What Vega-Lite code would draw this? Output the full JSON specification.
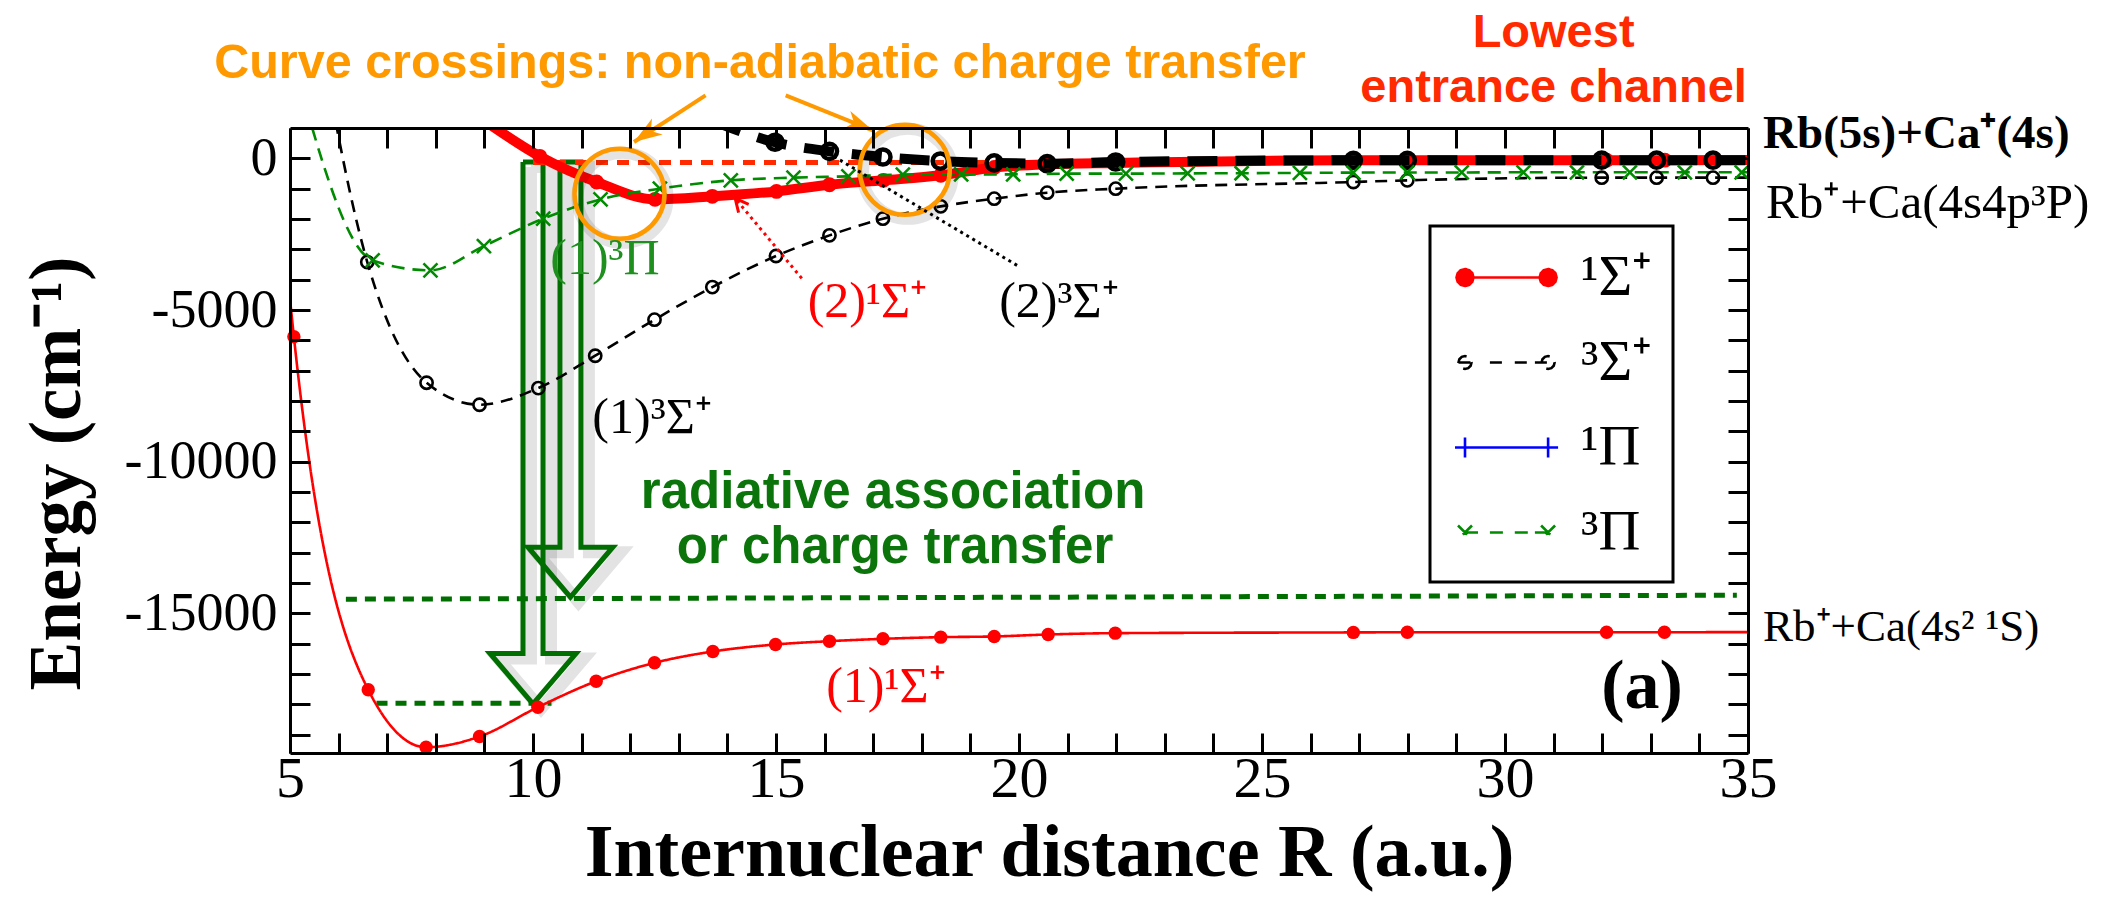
{
  "$schema": "https://vega.github.io/schema/vega-lite/v6.json",
  "width": 1458,
  "height": 625,
  "autosize": {"type": "none"},
  "padding": {"left": 290, "top": 128, "right": 357, "bottom": 163},
  "background": "white",
  "config": {"view": {"stroke": null}, "axis": {"grid": false}},
  "datasets": {
    "thin": [
      {"state": "¹Σ⁺", "R": 4.8, "E": -1300}, {"state": "¹Σ⁺", "R": 5.08, "E": -5880}, {"state": "¹Σ⁺", "R": 6.61, "E": -17517},
      {"state": "¹Σ⁺", "R": 7.8, "E": -19410}, {"state": "¹Σ⁺", "R": 8.9, "E": -19057}, {"state": "¹Σ⁺", "R": 10.1, "E": -18090},
      {"state": "¹Σ⁺", "R": 11.3, "E": -17233}, {"state": "¹Σ⁺", "R": 12.5, "E": -16628}, {"state": "¹Σ⁺", "R": 13.7, "E": -16254},
      {"state": "¹Σ⁺", "R": 14.99, "E": -16023}, {"state": "¹Σ⁺", "R": 16.1, "E": -15914}, {"state": "¹Σ⁺", "R": 17.2, "E": -15837},
      {"state": "¹Σ⁺", "R": 18.39, "E": -15782}, {"state": "¹Σ⁺", "R": 19.49, "E": -15759}, {"state": "¹Σ⁺", "R": 20.6, "E": -15694},
      {"state": "¹Σ⁺", "R": 21.98, "E": -15650}, {"state": "¹Σ⁺", "R": 26.88, "E": -15625}, {"state": "¹Σ⁺", "R": 27.99, "E": -15620},
      {"state": "¹Σ⁺", "R": 32.09, "E": -15618}, {"state": "¹Σ⁺", "R": 33.28, "E": -15618}, {"state": "¹Σ⁺", "R": 36, "E": -15615},
      {"state": "³Σ⁺", "R": 5.1, "E": 9000}, {"state": "³Σ⁺", "R": 6.59, "E": -3419}, {"state": "³Σ⁺", "R": 7.81, "E": -7395},
      {"state": "³Σ⁺", "R": 8.9, "E": -8121}, {"state": "³Σ⁺", "R": 10.11, "E": -7572}, {"state": "³Σ⁺", "R": 11.28, "E": -6506},
      {"state": "³Σ⁺", "R": 12.5, "E": -5318}, {"state": "³Σ⁺", "R": 13.69, "E": -4243}, {"state": "³Σ⁺", "R": 15.0, "E": -3220},
      {"state": "³Σ⁺", "R": 16.1, "E": -2539}, {"state": "³Σ⁺", "R": 17.2, "E": -1989}, {"state": "³Σ⁺", "R": 18.39, "E": -1583},
      {"state": "³Σ⁺", "R": 19.49, "E": -1330}, {"state": "³Σ⁺", "R": 20.58, "E": -1132}, {"state": "³Σ⁺", "R": 21.99, "E": -1000},
      {"state": "³Σ⁺", "R": 26.88, "E": -780}, {"state": "³Σ⁺", "R": 27.99, "E": -725}, {"state": "³Σ⁺", "R": 31.99, "E": -637},
      {"state": "³Σ⁺", "R": 33.12, "E": -637}, {"state": "³Σ⁺", "R": 34.28, "E": -637}, {"state": "³Σ⁺", "R": 36, "E": -630},
      {"state": "³Π", "R": 5.1, "E": 3000}, {"state": "³Π", "R": 6.7, "E": -3363}, {"state": "³Π", "R": 7.89, "E": -3693},
      {"state": "³Π", "R": 8.99, "E": -2891}, {"state": "³Π", "R": 10.21, "E": -1989}, {"state": "³Π", "R": 11.39, "E": -1352},
      {"state": "³Π", "R": 12.61, "E": -1000}, {"state": "³Π", "R": 14.07, "E": -725}, {"state": "³Π", "R": 15.36, "E": -637},
      {"state": "³Π", "R": 16.49, "E": -593}, {"state": "³Π", "R": 17.61, "E": -538}, {"state": "³Π", "R": 18.81, "E": -527},
      {"state": "³Π", "R": 19.88, "E": -527}, {"state": "³Π", "R": 20.98, "E": -505}, {"state": "³Π", "R": 22.2, "E": -505},
      {"state": "³Π", "R": 23.47, "E": -495}, {"state": "³Π", "R": 24.58, "E": -490}, {"state": "³Π", "R": 25.78, "E": -480},
      {"state": "³Π", "R": 26.88, "E": -470}, {"state": "³Π", "R": 27.99, "E": -465}, {"state": "³Π", "R": 29.11, "E": -465},
      {"state": "³Π", "R": 30.38, "E": -460}, {"state": "³Π", "R": 31.48, "E": -460}, {"state": "³Π", "R": 32.57, "E": -460},
      {"state": "³Π", "R": 33.7, "E": -460}, {"state": "³Π", "R": 34.87, "E": -460}, {"state": "³Π", "R": 36, "E": -460}
    ],
    "channel": [
      {"curve": "2S1", "R": 8.9, "E": 1350}, {"curve": "2S1", "R": 10.14, "E": 66}, {"curve": "2S1", "R": 11.31, "E": -781},
      {"curve": "2S1", "R": 12.51, "E": -1352}, {"curve": "2S1", "R": 13.69, "E": -1253}, {"curve": "2S1", "R": 15.01, "E": -1090},
      {"curve": "2S1", "R": 16.1, "E": -870}, {"curve": "2S1", "R": 17.21, "E": -725}, {"curve": "2S1", "R": 18.39, "E": -560},
      {"curve": "2S1", "R": 19.49, "E": -300}, {"curve": "2S1", "R": 20.58, "E": -198}, {"curve": "2S1", "R": 21.99, "E": -154},
      {"curve": "2S1", "R": 26.88, "E": -66}, {"curve": "2S1", "R": 27.99, "E": -66}, {"curve": "2S1", "R": 32.09, "E": -60},
      {"curve": "2S1", "R": 33.29, "E": -60}, {"curve": "2S1", "R": 36, "E": -55},
      {"curve": "2S3", "R": 13.69, "E": 1240}, {"curve": "2S3", "R": 14.98, "E": 530}, {"curve": "2S3", "R": 16.1, "E": 230},
      {"curve": "2S3", "R": 17.2, "E": 43}, {"curve": "2S3", "R": 18.38, "E": -90}, {"curve": "2S3", "R": 19.49, "E": -150},
      {"curve": "2S3", "R": 20.58, "E": -176}, {"curve": "2S3", "R": 21.99, "E": -121}, {"curve": "2S3", "R": 26.88, "E": -66},
      {"curve": "2S3", "R": 27.99, "E": -66}, {"curve": "2S3", "R": 31.99, "E": -60}, {"curve": "2S3", "R": 33.12, "E": -60},
      {"curve": "2S3", "R": 34.28, "E": -60}, {"curve": "2S3", "R": 36, "E": -55}
    ],
    "arrows": [
      {"a": "A", "i": 0, "R": 9.794, "E": -122}, {"a": "A", "i": 1, "R": 9.794, "E": -16320}, {"a": "A", "i": 2, "R": 9.115, "E": -16320},
      {"a": "A", "i": 3, "R": 10.0, "E": -17980}, {"a": "A", "i": 4, "R": 10.885, "E": -16320}, {"a": "A", "i": 5, "R": 10.206, "E": -16320},
      {"a": "A", "i": 6, "R": 10.206, "E": -122}, {"a": "A", "i": 7, "R": 9.794, "E": -122},
      {"a": "B", "i": 0, "R": 10.554, "E": -122}, {"a": "B", "i": 1, "R": 10.554, "E": -12815}, {"a": "B", "i": 2, "R": 9.898, "E": -12815},
      {"a": "B", "i": 3, "R": 10.77, "E": -14464}, {"a": "B", "i": 4, "R": 11.642, "E": -12815}, {"a": "B", "i": 5, "R": 10.986, "E": -12815},
      {"a": "B", "i": 6, "R": 10.986, "E": -122}, {"a": "B", "i": 7, "R": 10.554, "E": -122}
    ]
  },
  "layer": [
    {
      "encoding": {
        "x": {
          "field": "R", "type": "quantitative",
          "scale": {"domain": [5, 35], "nice": false, "zero": false},
          "axis": {
            "orient": "bottom",
            "values": [5,6,7,8,9,10,11,12,13,14,15,16,17,18,19,20,21,22,23,24,25,26,27,28,29,30,31,32,33,34,35],
            "tickSize": -20, "tickWidth": 3, "tickColor": "#000",
            "domainWidth": 3, "domainColor": "#000",
            "labelExpr": "datum.value % 5 === 0 ? toString(datum.value) : ''",
            "labelFont": "Liberation Serif", "labelFontSize": 58, "labelColor": "#000", "labelPadding": 17,
            "labelFlush": false, "labelOverlap": false, "labelBound": false,
            "title": "Internuclear distance R (a.u.)",
            "titleFont": "Liberation Serif", "titleFontSize": 74, "titleFontWeight": "bold", "titleColor": "#000",
            "titleX": 759, "titleY": 122, "titleBaseline": "alphabetic", "titleAlign": "center", "titleAngle": 0,
            "encode": {"ticks": {"update": {"y2": {"signal": "datum.value % 5 === 0 ? -38 : -20"}}}},
            "zindex": 1
          }
        },
        "y": {
          "field": "E", "type": "quantitative",
          "scale": {"domain": [-19600, 1000], "nice": false, "zero": false},
          "axis": {
            "orient": "left",
            "values": [-19000,-18000,-17000,-16000,-15000,-14000,-13000,-12000,-11000,-10000,-9000,-8000,-7000,-6000,-5000,-4000,-3000,-2000,-1000,0],
            "tickSize": -20, "tickWidth": 3, "tickColor": "#000",
            "domainWidth": 3, "domainColor": "#000",
            "labelExpr": "datum.value % 5000 === 0 ? toString(datum.value) : ''",
            "labelFont": "Liberation Serif", "labelFontSize": 54, "labelColor": "#000", "labelPadding": 33,
            "labelOverlap": false, "labelBound": false, "labelFlush": false,
            "title": "Energy (cm⁻¹)",
            "titleFont": "Liberation Serif", "titleFontSize": 73, "titleFontWeight": "bold", "titleColor": "#000",
            "titleX": -211, "titleY": 345, "titleBaseline": "alphabetic", "titleAlign": "center", "titleAngle": 270,
            "encode": {"ticks": {"update": {"x2": {"signal": "datum.value % 5000 === 0 ? 42 : 20"}}}},
            "zindex": 1
          }
        }
      },
      "layer": [
        {
          "data": {"name": "arrows"},
          "mark": {"type": "line", "stroke": "#000000", "opacity": 0.11, "strokeWidth": 12, "xOffset": 8, "yOffset": 5, "strokeJoin": "miter"},
          "encoding": {"order": {"field": "i", "type": "quantitative"}, "detail": {"field": "a"}}
        },
        {
          "data": {"name": "arrows"},
          "mark": {"type": "line", "stroke": "#006e00", "strokeWidth": 5, "strokeJoin": "miter"},
          "encoding": {"order": {"field": "i", "type": "quantitative"}, "detail": {"field": "a"}}
        },
        {
          "data": {"values": [{"R": 6.15, "E": -14530, "R2": 34.77, "E2": -14400}, {"R": 6.78, "E": -17958, "R2": 10.38, "E2": -17958}]},
          "mark": {"type": "rule", "stroke": "#006e00", "strokeWidth": 5, "strokeDash": [11, 8]},
          "encoding": {"x2": {"field": "R2"}, "y2": {"field": "E2"}}
        },
        {
          "data": {"values": [{"R": 10.0, "E": -140, "R2": 35}]},
          "mark": {"type": "rule", "stroke": "#ff2a00", "strokeWidth": 5, "strokeDash": [12, 9]},
          "encoding": {"x2": {"field": "R2"}}
        },
        {
          "data": {"name": "channel"},
          "transform": [{"filter": {"field": "curve", "equal": "2S1"}}],
          "mark": {"type": "line", "stroke": "#ff0000", "strokeWidth": 10, "interpolate": "monotone", "clip": true}
        },
        {
          "data": {"name": "channel"},
          "transform": [{"filter": {"and": [{"field": "curve", "equal": "2S1"}, {"field": "R", "range": [5, 35]}, {"field": "E", "lte": 1000}]}}],
          "mark": {"type": "point", "shape": "circle", "filled": true, "color": "#ff0000", "size": 220, "opacity": 1}
        },
        {
          "data": {"name": "channel"},
          "transform": [{"filter": {"field": "curve", "equal": "2S3"}}],
          "mark": {"type": "line", "stroke": "#000000", "strokeWidth": 10, "strokeDash": [30, 18], "interpolate": "monotone", "clip": true}
        },
        {
          "data": {"name": "channel"},
          "transform": [{"filter": {"and": [{"field": "curve", "equal": "2S3"}, {"field": "R", "range": [5, 35]}, {"field": "E", "lte": 1000}]}}],
          "mark": {"type": "point", "shape": "circle", "filled": false, "stroke": "#000000", "strokeWidth": 4.5, "size": 230, "opacity": 1}
        },
        {
          "data": {"name": "thin"},
          "mark": {"type": "line", "strokeWidth": 2.6, "interpolate": "monotone", "clip": true},
          "encoding": {
            "color": {
              "field": "state", "type": "nominal",
              "scale": {"domain": ["¹Σ⁺", "³Σ⁺", "¹Π", "³Π"], "range": ["#ff0000", "#000000", "#0000ff", "#008b00"]},
              "legend": {
                "orient": "none", "legendX": 1140, "legendY": 98, "title": null,
                "padding": 20, "strokeColor": "#000000", "fillColor": "#ffffff",
                "symbolSize": 3600, "symbolType": "stroke", "symbolStrokeWidth": 2.6,
                "labelFont": "Liberation Serif", "labelFontSize": 58, "labelColor": "#000000",
                "labelOffset": 68, "rowPadding": 24, "labelLimit": 400,
                "encode": {
                  "legend": {"update": {"strokeWidth": {"value": 3}}},
                  "symbols": {"update": {
                    "shape": {"signal": "datum.value === '¹Σ⁺' ? 'M-0.55,0L2.22,0M-0.267,0L-0.305,0.142L-0.408,0.245L-0.55,0.283L-0.692,0.245L-0.795,0.142L-0.833,0L-0.795,-0.142L-0.692,-0.245L-0.55,-0.283L-0.408,-0.245L-0.305,-0.142ZM2.503,0L2.465,0.142L2.362,0.245L2.22,0.283L2.078,0.245L1.975,0.142L1.937,0L1.975,-0.142L2.078,-0.245L2.22,-0.283L2.362,-0.245L2.465,-0.142Z' : datum.value === '³Σ⁺' ? 'M-0.767,0L-0.11,0M0.28,0L0.78,0M1.11,0L1.61,0M1.78,0L2.437,0M-0.333,0L-0.362,0.109L-0.442,0.188L-0.55,0.217L-0.659,0.188L-0.738,0.109L-0.767,0L-0.738,-0.109L-0.659,-0.188L-0.55,-0.217L-0.442,-0.188L-0.362,-0.109ZM2.437,0L2.408,0.109L2.329,0.188L2.22,0.217L2.112,0.188L2.032,0.109L2.003,0L2.032,-0.109L2.112,-0.188L2.22,-0.217L2.329,-0.188L2.408,-0.109Z' : datum.value === '¹Π' ? 'M-0.55,0L2.22,0M-0.55,-0.333L-0.55,0.333M-0.883,0L-0.217,0M2.22,-0.333L2.22,0.333M1.887,0L2.553,0' : 'M-0.783,-0.233L-0.317,0.233M-0.317,-0.233L-0.783,0.233M1.987,-0.233L2.453,0.233M2.453,-0.233L1.987,0.233M-0.55,0L-0.11,0M0.28,0L0.78,0M1.11,0L1.61,0M1.78,0L2.22,0'"},
                    "fill": {"signal": "datum.value === '¹Σ⁺' ? '#ff0000' : 'transparent'"},
                    "stroke": {"signal": "datum.value === '¹Σ⁺' ? '#ff0000' : datum.value === '³Σ⁺' ? '#000000' : datum.value === '¹Π' ? '#0000ff' : '#008b00'"},
                    "strokeWidth": {"value": 2.6},
                    "strokeDash": {"value": []},
                    "size": {"value": 3600},
                    "opacity": {"value": 1}
                  }}
                }
              }
            },
            "strokeDash": {
              "field": "state", "type": "nominal",
              "scale": {"domain": ["¹Σ⁺", "³Σ⁺", "¹Π", "³Π"], "range": [[1, 0], [12, 8], [1, 0], [13, 8]]},
              "legend": null
            }
          }
        },
        {
          "data": {"name": "thin"},
          "transform": [{"filter": {"and": [{"field": "state", "equal": "¹Σ⁺"}, {"field": "R", "range": [5, 35]}, {"field": "E", "lte": 1000}]}}],
          "mark": {"type": "point", "shape": "circle", "filled": true, "color": "#ff0000", "size": 180, "opacity": 1}
        },
        {
          "data": {"name": "thin"},
          "transform": [{"filter": {"and": [{"field": "state", "equal": "³Σ⁺"}, {"field": "R", "range": [5, 35]}, {"field": "E", "lte": 1000}]}}],
          "mark": {"type": "point", "shape": "circle", "filled": false, "stroke": "#000000", "strokeWidth": 2.6, "size": 150, "opacity": 1}
        },
        {
          "data": {"name": "thin"},
          "transform": [{"filter": {"and": [{"field": "state", "equal": "³Π"}, {"field": "R", "range": [5, 35]}, {"field": "E", "lte": 1000}]}}],
          "mark": {"type": "point", "shape": "M-1,-1L1,1M-1,1L1,-1", "filled": false, "stroke": "#008b00", "strokeWidth": 2.6, "size": 196, "opacity": 1}
        },
        {
          "data": {"values": [{"R": 11.78, "E": -1170}, {"R": 17.65, "E": -379}]},
          "mark": {"type": "point", "shape": "circle", "filled": false, "stroke": "#000000", "strokeWidth": 12, "size": 8100, "opacity": 0.1, "xOffset": 3, "yOffset": 4}
        },
        {
          "data": {"values": [{"R": 11.78, "E": -1170}, {"R": 17.65, "E": -379}]},
          "mark": {"type": "point", "shape": "circle", "filled": false, "stroke": "#ff9900", "strokeWidth": 4.5, "size": 8100, "opacity": 1}
        },
        {
          "data": {"values": [{"R": 13.55, "E": 2077, "R2": 12.078, "E2": 537}, {"R": 15.2, "E": 2077, "R2": 16.99, "E2": 923}]},
          "mark": {"type": "rule", "stroke": "#ff9900", "strokeWidth": 4},
          "encoding": {"x2": {"field": "R2"}, "y2": {"field": "E2"}}
        },
        {
          "data": {"values": [{"R": 12.078, "E": 537}]},
          "mark": {"type": "point", "shape": "M0,0L0.55,1.6L0,1.15L-0.55,1.6Z", "filled": true, "color": "#ff9900", "size": 1225, "angle": 236.5, "opacity": 1}
        },
        {
          "data": {"values": [{"R": 16.99, "E": 923}]},
          "mark": {"type": "point", "shape": "M0,0L0.55,1.6L0,1.15L-0.55,1.6Z", "filled": true, "color": "#ff9900", "size": 1225, "angle": 111.9, "opacity": 1}
        },
        {
          "data": {"values": [{"R": 15.53, "E": -3956, "R2": 14.16, "E2": -1319}]},
          "mark": {"type": "rule", "stroke": "#ff0000", "strokeWidth": 3, "strokeDash": [3, 4]},
          "encoding": {"x2": {"field": "R2"}, "y2": {"field": "E2"}}
        },
        {
          "data": {"values": [{"R": 14.16, "E": -1319}]},
          "mark": {"type": "point", "shape": "M-0.55,1.1L0,0L0.55,1.1", "filled": false, "stroke": "#ff0000", "strokeWidth": 3, "size": 576, "angle": 320.1, "opacity": 1}
        },
        {
          "data": {"values": [{"R": 19.96, "E": -3528, "R2": 16.15, "E2": 100}]},
          "mark": {"type": "rule", "stroke": "#000000", "strokeWidth": 3, "strokeDash": [3, 4]},
          "encoding": {"x2": {"field": "R2"}, "y2": {"field": "E2"}}
        },
        {
          "data": {"values": [{"label": "Curve crossings: non-adiabatic charge transfer", "R": 14.67, "E": 2638}]},
          "mark": {"type": "text", "font": "Liberation Sans", "fontSize": 48.5, "fontWeight": "bold", "color": "#ff9900", "align": "center", "baseline": "alphabetic"},
          "encoding": {"text": {"field": "label"}}
        },
        {
          "data": {"values": [{"label": "Lowest", "R": 31.0, "E": 3660}, {"label": "entrance channel", "R": 31.0, "E": 1846}]},
          "mark": {"type": "text", "font": "Liberation Sans", "fontSize": 47, "fontWeight": "bold", "color": "#ff2a00", "align": "center", "baseline": "alphabetic"},
          "encoding": {"text": {"field": "label"}}
        },
        {
          "data": {"values": [{"label": "radiative association", "R": 17.41, "E": -11540}, {"label": "or charge transfer", "R": 17.45, "E": -13353}]},
          "mark": {"type": "text", "font": "Liberation Sans", "fontSize": 51, "fontWeight": "bold", "color": "#0b740b", "align": "center", "baseline": "alphabetic"},
          "encoding": {"text": {"field": "label"}}
        },
        {
          "data": {"values": [{"label": "(1)³Π", "R": 11.48, "E": -3801}]},
          "mark": {"type": "text", "font": "Liberation Serif", "fontSize": 50, "color": "#1f8f1f", "align": "center", "baseline": "alphabetic"},
          "encoding": {"text": {"field": "label"}}
        },
        {
          "data": {"values": [{"label": "(1)³Σ⁺", "R": 12.45, "E": -9067}, {"label": "(2)³Σ⁺", "R": 20.82, "E": -5232}]},
          "mark": {"type": "text", "font": "Liberation Serif", "fontSize": 50, "color": "#000000", "align": "center", "baseline": "alphabetic"},
          "encoding": {"text": {"field": "label"}}
        },
        {
          "data": {"values": [{"label": "(2)¹Σ⁺", "R": 16.88, "E": -5232}, {"label": "(1)¹Σ⁺", "R": 17.26, "E": -17925}]},
          "mark": {"type": "text", "font": "Liberation Serif", "fontSize": 50, "color": "#ff0000", "align": "center", "baseline": "alphabetic"},
          "encoding": {"text": {"field": "label"}}
        },
        {
          "data": {"values": [{"label": "Rb(5s)+Ca⁺(4s)", "R": 35.31, "E": 330}]},
          "mark": {"type": "text", "font": "Liberation Serif", "fontSize": 47, "fontWeight": "bold", "color": "#000000", "align": "left", "baseline": "alphabetic"},
          "encoding": {"text": {"field": "label"}}
        },
        {
          "data": {"values": [{"label": "Rb⁺+Ca(4s4p³P)", "R": 35.37, "E": -1978}]},
          "mark": {"type": "text", "font": "Liberation Serif", "fontSize": 49, "color": "#000000", "align": "left", "baseline": "alphabetic"},
          "encoding": {"text": {"field": "label"}}
        },
        {
          "data": {"values": [{"label": "Rb⁺+Ca(4s² ¹S)", "R": 35.31, "E": -15892}]},
          "mark": {"type": "text", "font": "Liberation Serif", "fontSize": 45, "color": "#000000", "align": "left", "baseline": "alphabetic"},
          "encoding": {"text": {"field": "label"}}
        }
      ]
    },
    {
      "data": {"values": [{"label": "(a)", "R": 32.82, "E": -18133}]},
      "mark": {"type": "text", "font": "Liberation Serif", "fontSize": 70, "fontWeight": "bold", "color": "#000000", "align": "center", "baseline": "alphabetic"},
      "encoding": {
        "text": {"field": "label"},
        "x": {
          "field": "R", "type": "quantitative",
          "scale": {"domain": [5, 35], "nice": false, "zero": false},
          "axis": {
            "orient": "top",
            "values": [5,6,7,8,9,10,11,12,13,14,15,16,17,18,19,20,21,22,23,24,25,26,27,28,29,30,31,32,33,34,35],
            "labels": false, "title": null,
            "tickSize": -20, "tickWidth": 3, "tickColor": "#000",
            "domainWidth": 3, "domainColor": "#000",
            "encode": {"ticks": {"update": {"y2": {"signal": "datum.value % 5 === 0 ? 38 : 20"}}}},
            "zindex": 1
          }
        },
        "y": {
          "field": "E", "type": "quantitative",
          "scale": {"domain": [-19600, 1000], "nice": false, "zero": false},
          "axis": {
            "orient": "right",
            "values": [-19000,-18000,-17000,-16000,-15000,-14000,-13000,-12000,-11000,-10000,-9000,-8000,-7000,-6000,-5000,-4000,-3000,-2000,-1000,0],
            "labels": false, "title": null,
            "tickSize": -20, "tickWidth": 3, "tickColor": "#000",
            "domainWidth": 3, "domainColor": "#000",
            "encode": {"ticks": {"update": {"x2": {"signal": "datum.value % 5000 === 0 ? -42 : -20"}}}},
            "zindex": 1
          }
        }
      }
    }
  ],
  "resolve": {"axis": {"x": "independent", "y": "independent"}}
}
